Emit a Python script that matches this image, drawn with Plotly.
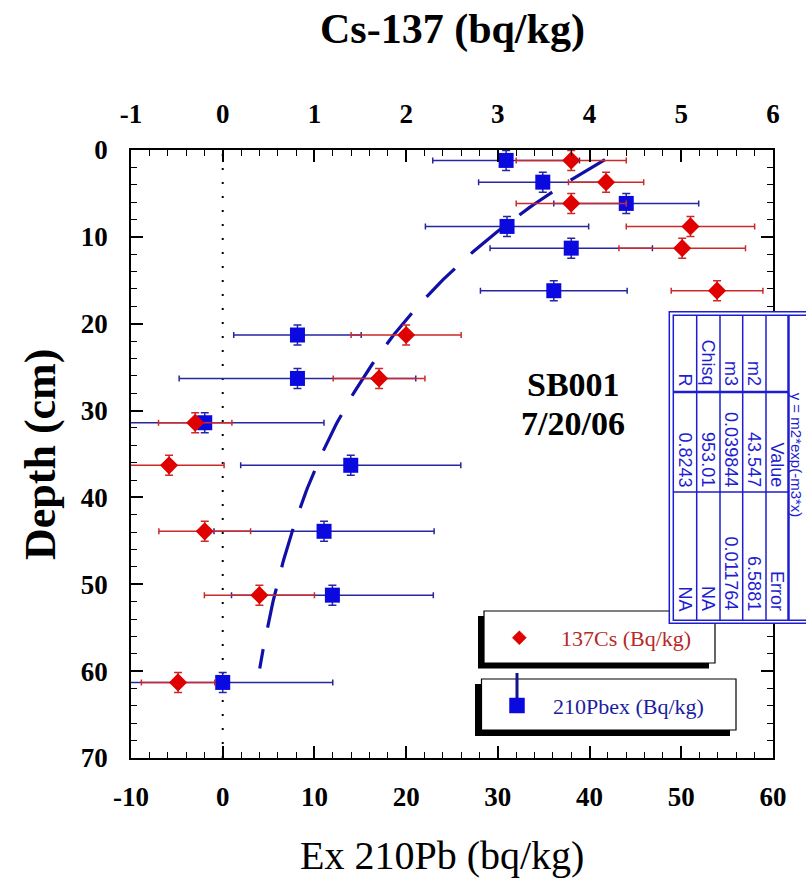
import numpy as np
import plotly.graph_objects as go

# ---------------- data ----------------
depth_cm = [1.2, 3.7, 6.15, 8.8, 11.3, 16.2, 21.3, 26.3, 31.4, 36.3, 43.9, 51.25, 61.3]
depth_err = [1.15] * 13

pb210_ex = [30.9, 34.9, 44.0, 31.0, 38.0, 36.1, 8.15, 8.15, -1.96, 13.96, 11.05, 11.96, 0.0]
pb210_err = [8.0, 7.0, 7.9, 8.9, 8.85, 8.0, 6.95, 12.9, 13.0, 12.0, 12.0, 11.0, 12.0]

cs137 = [3.80, 4.18, 3.80, 5.10, 5.01, 5.39, 2.00, 1.705, -0.30, -0.585, -0.196, 0.40, -0.487]
cs137_err = [0.6, 0.41, 0.6, 0.7, 0.69, 0.5, 0.6, 0.5, 0.4, 0.6, 0.5, 0.6, 0.4]

# exponential fit y = m2*exp(-m3*x) (parameters from the fit table)
fit_m2 = 43.547
fit_m3 = 0.039844
fit_depth_range = [1.1, 59.7]

table_names = ["m2", "m3", "Chisq", "R"]
table_values = ["43.547", "0.039844", "953.01", "0.8243"]
table_errors = ["6.5881", "0.011764", "NA", "NA"]
table_title = "y = m2*exp(-m3*x)"

x_ticks_pb = [-10, 0, 10, 20, 30, 40, 50, 60]
x_ticks_cs = [-1, 0, 1, 2, 3, 4, 5, 6]
y_ticks = [0, 10, 20, 30, 40, 50, 60, 70]

# ---------------- layout helpers ----------------
W, H = 806, 879
PL, PR, PT, PB = 131, 773, 150, 758


def px(x):
    return (x - PL) / (PR - PL)


def py(y):
    return (PB - y) / (PB - PT)


SERIF = "Liberation Serif"
SANS = "Liberation Sans"
RED = "#e00000"
RED_ERR = "#cc2a2a"
BLUE = "#0a0ae0"
BLUE_ERR = "#2626a0"
TBL = "#1e1ed0"

fig = go.Figure()

# red Cs-137 (top axis)
fig.add_trace(go.Scatter(
    x=cs137, y=depth_cm, xaxis="x2", yaxis="y", mode="markers",
    marker=dict(symbol="diamond", size=14, color=RED),
    error_x=dict(type="data", array=cs137_err, color=RED_ERR, thickness=1.5, width=3),
    error_y=dict(type="data", array=depth_err, color=RED_ERR, thickness=1.5, width=4),
    name="137Cs (Bq/kg)",
))

# blue 210Pb ex (bottom axis)
fig.add_trace(go.Scatter(
    x=pb210_ex, y=depth_cm, xaxis="x", yaxis="y", mode="markers",
    marker=dict(symbol="square", size=15, color=BLUE),
    error_x=dict(type="data", array=pb210_err, color=BLUE_ERR, thickness=1.5, width=3),
    error_y=dict(type="data", array=depth_err, color=BLUE_ERR, thickness=1.5, width=4),
    name="210Pbex (Bq/kg)",
))

# fit curve
fit_d = np.linspace(fit_depth_range[0], fit_depth_range[1], 150)
fit_pb = fit_m2 * np.exp(-fit_m3 * fit_d)
fig.add_trace(go.Scatter(
    x=fit_pb, y=fit_d, xaxis="x", yaxis="y", mode="lines",
    line=dict(color="#1010a8", width=3.2, dash="40px,22px"),
    hoverinfo="skip",
))

tickfont = dict(family=SERIF, size=27, color="black", weight="bold")
axis_common = dict(
    ticks="inside", ticklen=12, tickwidth=1.5, tickcolor="black",
    showline=True, linecolor="black", linewidth=1.5,
    showgrid=False, zeroline=False, tickfont=tickfont,
)

fig.update_layout(
    width=W, height=H,
    margin=dict(l=PL, r=W - PR, t=PT, b=H - PB),
    paper_bgcolor="white", plot_bgcolor="white",
    showlegend=False,
    xaxis=dict(range=[-10, 60], tickvals=x_ticks_pb, ticktext=[str(v) for v in x_ticks_pb],
               minor=dict(dtick=2, tick0=0, ticks="inside", ticklen=6, tickcolor="black", tickwidth=1.2),
               ticklabelstandoff=14, **axis_common),
    xaxis2=dict(range=[-1, 6], overlaying="x", side="top", anchor="y",
                tickvals=x_ticks_cs, ticktext=[str(v) for v in x_ticks_cs],
                minor=dict(dtick=0.2, tick0=0, ticks="inside", ticklen=6, tickcolor="black", tickwidth=1.2),
                ticklabelstandoff=14, **axis_common),
    yaxis=dict(range=[70, 0], tickvals=y_ticks, ticktext=[str(v) for v in y_ticks],
               minor=dict(dtick=2, tick0=0, ticks="inside", ticklen=6, tickcolor="black", tickwidth=1.2),
               mirror="ticks", ticklabelstandoff=16, **axis_common),
)

shapes = []
# dotted zero line
shapes.append(dict(type="line", xref="x", yref="paper", x0=0, x1=0, y0=0, y1=1,
                   line=dict(color="black", width=2, dash="2px,12px"), layer="below"))

# ---- legend boxes with drop shadows ----
shapes.append(dict(type="rect", xref="paper", yref="paper", x0=px(478), x1=px(709), y0=py(668.5), y1=py(616),
                   fillcolor="black", line=dict(width=0), layer="above"))
shapes.append(dict(type="rect", xref="paper", yref="paper", x0=px(484), x1=px(715), y0=py(663), y1=py(611),
                   fillcolor="white", line=dict(color="black", width=1.2), layer="above"))
shapes.append(dict(type="rect", xref="paper", yref="paper", x0=px(475), x1=px(730), y0=py(736), y1=py(684),
                   fillcolor="black", line=dict(width=0), layer="above"))
shapes.append(dict(type="rect", xref="paper", yref="paper", x0=px(481.5), x1=px(736), y0=py(730), y1=py(679),
                   fillcolor="white", line=dict(color="black", width=1.2), layer="above"))
# legend symbols
dcx, dcy, dr = 519.3, 637.7, 7
shapes.append(dict(type="path", xref="paper", yref="paper",
                   path=f"M {px(dcx)} {py(dcy - dr)} L {px(dcx + dr)} {py(dcy)} L {px(dcx)} {py(dcy + dr)} L {px(dcx - dr)} {py(dcy)} Z",
                   fillcolor=RED, line=dict(color=RED, width=0.5), layer="above"))
shapes.append(dict(type="line", xref="paper", yref="paper", x0=px(517), x1=px(517), y0=py(673), y1=py(700),
                   line=dict(color="#12128a", width=3), layer="above"))
shapes.append(dict(type="rect", xref="paper", yref="paper", x0=px(509.5), x1=px(524.5), y0=py(713), y1=py(698),
                   fillcolor=BLUE, line=dict(color=BLUE, width=0.5), layer="above"))

# ---- fit table (rotated, clipped at right edge), drawn over legend box 1 ----
tl, tr, tt, tb = 669.3, 830, 311.7, 623.3
shapes.append(dict(type="rect", xref="paper", yref="paper", x0=px(tl), x1=px(tr), y0=py(tb), y1=py(tt),
                   fillcolor="white", line=dict(color=TBL, width=1.5), layer="above"))
il, it, ib = 673.3, 315.2, 620.3
shapes.append(dict(type="rect", xref="paper", yref="paper", x0=px(il), x1=px(tr - 4), y0=py(ib), y1=py(it),
                   fillcolor="rgba(0,0,0,0)", line=dict(color=TBL, width=1.5), layer="above"))
col_lines = [696.7, 720.0, 742.7, 766.0]
for cx in col_lines:
    shapes.append(dict(type="line", xref="paper", yref="paper", x0=px(cx), x1=px(cx), y0=py(ib), y1=py(it),
                       line=dict(color=TBL, width=1.5), layer="above"))
shapes.append(dict(type="line", xref="paper", yref="paper", x0=px(788.5), x1=px(788.5), y0=py(ib), y1=py(it),
                   line=dict(color=TBL, width=2.5), layer="above"))
shapes.append(dict(type="line", xref="paper", yref="paper", x0=px(il), x1=px(788.5), y0=py(392), y1=py(392),
                   line=dict(color=TBL, width=2.5), layer="above"))
shapes.append(dict(type="line", xref="paper", yref="paper", x0=px(il), x1=px(788.5), y0=py(492), y1=py(492),
                   line=dict(color=TBL, width=1.5), layer="above"))

fig.update_layout(shapes=shapes)

ann = []
# titles
ann.append(dict(text="Cs-137 (bq/kg)", x=px(453), y=py(30), xref="paper", yref="paper",
                xanchor="center", yanchor="middle", showarrow=False,
                font=dict(family=SERIF, size=42, color="black", weight="bold")))
ann.append(dict(text="Ex 210Pb (bq/kg)", x=px(442), y=py(855), xref="paper", yref="paper",
                xanchor="center", yanchor="middle", showarrow=False,
                font=dict(family=SERIF, size=40, color="black")))
ann.append(dict(text="Depth (cm)", x=px(40), y=py(455), xref="paper", yref="paper",
                xanchor="center", yanchor="middle", showarrow=False, textangle=-90,
                font=dict(family=SERIF, size=44, color="black", weight="bold")))
# sample label
ann.append(dict(text="SB001", x=px(573), y=py(384), xref="paper", yref="paper",
                xanchor="center", yanchor="middle", showarrow=False,
                font=dict(family=SERIF, size=34, color="black", weight="bold")))
ann.append(dict(text="7/20/06", x=px(573), y=py(423), xref="paper", yref="paper",
                xanchor="center", yanchor="middle", showarrow=False,
                font=dict(family=SERIF, size=34, color="black", weight="bold")))
# legend text
ann.append(dict(text="137Cs (Bq/kg)", x=px(559), y=py(638), xref="paper", yref="paper",
                xanchor="left", yanchor="middle", showarrow=False,
                font=dict(family=SERIF, size=22, color="#b82828")))
ann.append(dict(text="210Pbex (Bq/kg)", x=px(551), y=py(706), xref="paper", yref="paper",
                xanchor="left", yanchor="middle", showarrow=False,
                font=dict(family=SERIF, size=22, color="#1c1ca0")))

# table text (rotated 90 deg clockwise)
tfont = dict(family=SANS, size=18, color=TBL)
col_centers = [685.0, 708.4, 731.4, 754.4]  # R, Chisq, m3, m2
for i, name in enumerate(table_names):
    cx = col_centers[3 - i]
    ann.append(dict(text=name, x=px(cx), y=py(388), xref="paper", yref="paper",
                    xanchor="center", yanchor="bottom", showarrow=False, textangle=90, font=tfont))
    ann.append(dict(text=table_values[i], x=px(cx), y=py(489), xref="paper", yref="paper",
                    xanchor="center", yanchor="bottom", showarrow=False, textangle=90, font=tfont))
    ann.append(dict(text=table_errors[i], x=px(cx), y=py(613), xref="paper", yref="paper",
                    xanchor="center", yanchor="bottom", showarrow=False, textangle=90, font=tfont))
ann.append(dict(text="Value", x=px(777), y=py(489), xref="paper", yref="paper",
                xanchor="center", yanchor="bottom", showarrow=False, textangle=90, font=tfont))
ann.append(dict(text="Error", x=px(777), y=py(613), xref="paper", yref="paper",
                xanchor="center", yanchor="bottom", showarrow=False, textangle=90, font=tfont))
ann.append(dict(text=table_title, x=px(797.3), y=py(455), xref="paper", yref="paper",
                xanchor="center", yanchor="middle", showarrow=False, textangle=90,
                font=dict(family=SANS, size=15, color=TBL)))

fig.update_layout(annotations=ann)

fig.write_html("out.html")
